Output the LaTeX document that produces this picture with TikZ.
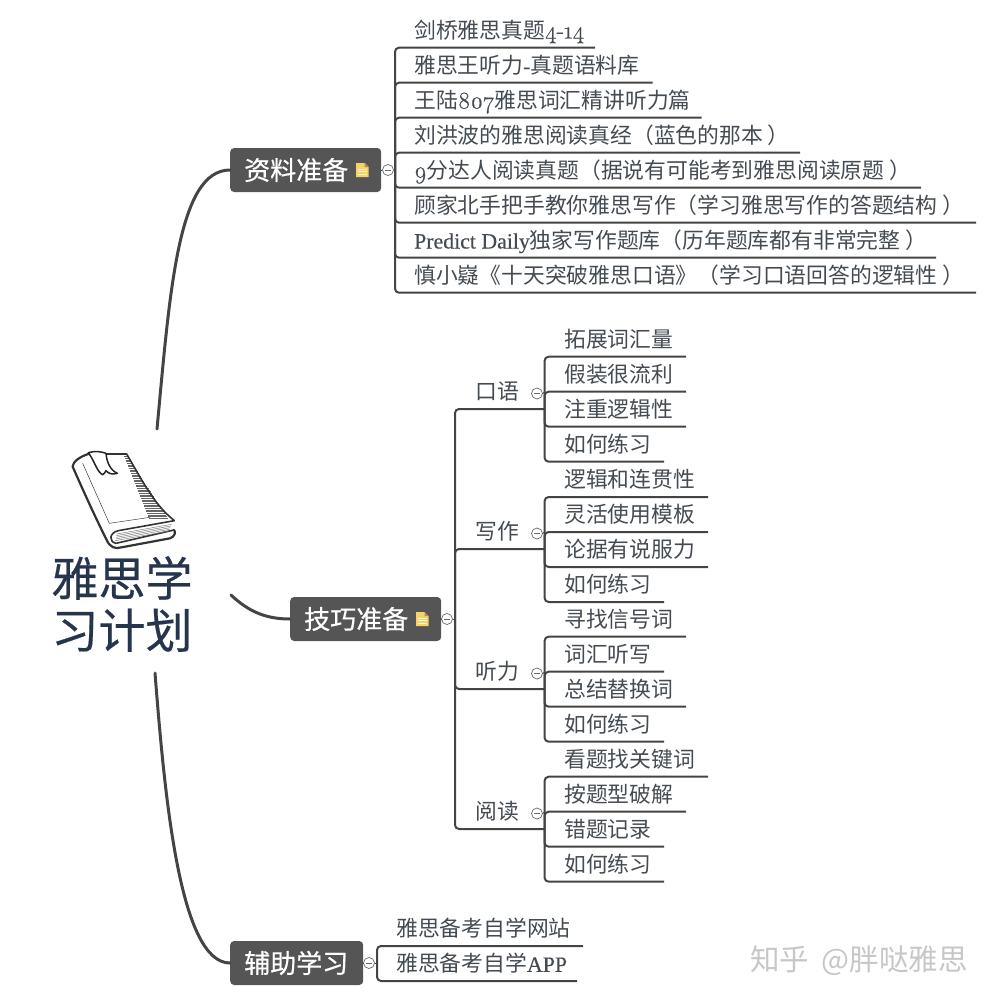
\documentclass[tikz,border=0pt]{standalone}
\usepackage{fontspec}
\setmainfont{Noto Sans CJK SC}
\newfontfamily\latf[FakeBold=0.3]{Liberation Serif}
\newfontfamily\oldf[Numbers=OldStyle,FakeBold=0.7]{Latin Modern Roman}
\newfontfamily\topicf[FakeBold=0.6]{Noto Sans CJK SC}
\newfontfamily\titlef[FakeBold=0.4]{Noto Sans CJK SC}
\newcommand\lat[1]{{\latf #1}}
\newcommand\old[1]{{\oldf\fontsize{24}{26}\selectfont #1}}
\newcommand\rpr{\kern5pt）}
\definecolor{boxc}{HTML}{555555}
\definecolor{linec}{HTML}{444444}
\definecolor{txtc}{HTML}{444B52}
\definecolor{titlec}{HTML}{26344C}
\definecolor{notec}{HTML}{F7D266}
\tikzset{
  branch/.style={draw=linec,line width=2pt},
  trunk/.style={draw=linec,line width=3pt,line cap=round},
  leaf/.style={anchor=west,inner sep=0pt,text=txtc,font=\fontsize{21.8}{24}\selectfont,text height=19.2pt,text depth=2.6pt},
  topic/.style={fill=boxc,rounded corners=4pt,inner sep=0pt,text=white,minimum height=44pt,font=\topicf\fontsize{26}{28}\selectfont,text height=22.9pt,text depth=3.1pt,align=left},
  fold/.style={circle,draw=linec!80,line width=.7pt,fill=white,minimum size=11pt,inner sep=0pt},
  stub/.style={draw=linec,line width=.8pt},
}
\newcommand\leaf[6]{%
  \node[leaf] (#1) at (#2,#4-17.5) {#6};
  \coordinate (#1e) at (#5,#4);
  \draw[branch,rounded corners=4pt] (#3) |- (#1e);
}
\newcommand\foldmark[3]{%
  \node[fold] (#1) at (#2,#3) {};
  \draw[draw=linec!80,line width=.7pt] ([xshift=-3pt]#1.center) -- ([xshift=3pt]#1.center);
}
\newcommand\noteicon[2]{%
  \fill[notec] (#1-6,#2-7) -- (#1+2.5,#2-7) -- (#1+6.5,#2-3) -- (#1+6.5,#2+7) -- (#1-6,#2+7) -- cycle;
  \fill[notec!70!black] (#1+2.5,#2-7) -- (#1+6.5,#2-3) -- (#1+2.5,#2-3) -- cycle;
  \draw[white!75!notec,line width=.6pt] (#1-4,#2-1) -- (#1+4.5,#2-1) (#1-4,#2+1.5) -- (#1+4.5,#2+1.5) (#1-4,#2+4) -- (#1+4.5,#2+4);
}
\begin{document}
\begin{tikzpicture}[x=1pt,y=-1pt]
\useasboundingbox (0,0) rectangle (993,1001);
% title
\node[inner sep=0pt,text=titlec,align=center,font=\titlef\fontsize{47}{52}\selectfont] (root) at (122,604) {雅思学\\习计划};
% book icon
\begin{scope}[shift={(60,440)},scale=0.3333]
  \fill[white] (85,42) -- (200,42) .. controls (240,110) and (280,190) .. (335,235) -- (343,242) -- (345,270) -- (340,290) -- (185,322) -- (140,300) -- (38,80) -- cycle;
  \foreach \yy in {50,55,...,235}{
    \draw[black!60,line width=.55pt] ({193+(\yy-50)*0.40},\yy) -- ({203+(\yy-50)*0.66},\yy);
  }
  \draw[black!75,line width=.5pt] (68,70) -- (148,250) -- (270,232);
  \draw[black!80,line width=1.6pt,line join=round,line cap=round]
    (85,42) -- (200,42) .. controls (240,110) and (280,190) .. (335,235) -- (343,242)
    -- (175,272) .. controls (148,278) and (145,305) .. (168,310) -- (342,270);
  \draw[black!80,line width=2.2pt,line join=round,line cap=round]
    (85,42) .. controls (60,50) and (38,65) .. (38,80)
    .. controls (60,130) and (100,220) .. (140,300) .. controls (150,322) and (165,328) .. (185,322)
    -- (330,295) .. controls (345,290) and (348,275) .. (342,270);
  \foreach \a in {0,1,2,3,4}{
    \draw[black!50,line width=.5pt] ({170-\a},{282+\a*5}) -- ({335-\a*2},{253+\a*5});
  }
  \draw[black!85,line width=1.5pt,fill=white,line join=round]
    (85,38) .. controls (105,32) and (125,35) .. (138,40) .. controls (140,65) and (150,90) .. (172,100)
    .. controls (155,105) and (145,100) .. (138,92) .. controls (135,98) and (132,102) .. (128,104)
    .. controls (110,95) and (105,65) .. (85,38) -- cycle;
\end{scope}
% trunks
\coordinate (t1) at (157,429);
\coordinate (t2) at (231,595);
\coordinate (t3) at (155,673);
% topics
\node[topic,minimum width=151pt,anchor=west] (A) at (230,170) {\makebox[123pt][l]{资料准备}};
\node[topic,minimum width=151pt,anchor=west] (B) at (290,619) {\makebox[123pt][l]{技巧准备}};
\node[topic,minimum width=133pt,anchor=west] (C) at (230,963) {\makebox[105pt][l]{辅助学习}};
\draw[trunk] (t1) .. controls (170,290) and (178,170) .. (A.west);
\draw[trunk] (t2) .. controls (250,613) and (268,619) .. (B.west);
\draw[trunk] (t3) .. controls (165,800) and (180,963) .. (C.west);
\noteicon{362}{170}
\noteicon{422}{619}
% group A
\foldmark{fa}{388}{170}
\coordinate (ha) at (395,170);
\draw[stub] (A.east) -- (fa.west) (fa.east) -- (ha);
\leaf{a1}{414}{ha}{47.7}{595}{剑桥雅思真题\old{4-14}}
\leaf{a2}{414}{ha}{82.7}{652.5}{雅思王听力\lat{-}真题语料库}
\leaf{a3}{414}{ha}{117.7}{701.5}{王陆\old{807}雅思词汇精讲听力篇}
\leaf{a4}{414}{ha}{152.7}{800}{刘洪波的雅思阅读真经（蓝色的那本\rpr}
\leaf{a5}{414}{ha}{187.7}{921}{\old{9}分达人阅读真题（据说有可能考到雅思阅读原题\rpr}
\leaf{a6}{414}{ha}{222.7}{976}{顾家北手把手教你雅思写作（学习雅思写作的答题结构\rpr}
\leaf{a7}{414}{ha}{257.7}{936}{\lat{Predict Daily}独家写作题库（历年题库都有非常完整\rpr}
\leaf{a8}{414}{ha}{292.7}{976}{慎小嶷《十天突破雅思口语》（学习口语回答的逻辑性\rpr}
% group B
\foldmark{fb}{447}{619}
\coordinate (hb) at (455,619);
\draw[stub] (B.east) -- (fb.west) (fb.east) -- (hb);
\leaf{s1}{475}{hb}{409}{544.6}{口语}
\leaf{s2}{475}{hb}{549}{544.6}{写作}
\leaf{s3}{475}{hb}{689}{544.6}{听力}
\leaf{s4}{475}{hb}{829}{544.6}{阅读}
\foldmark{f1}{537}{393.5}
\foldmark{f2}{537}{533.5}
\foldmark{f3}{537}{673.5}
\foldmark{f4}{537}{813.5}
\draw[stub] (f1.east) -- (544.6,392) (f2.east) -- (544.6,532) (f3.east) -- (544.6,672) (f4.east) -- (544.6,812);
\leaf{b1}{564}{s1e}{356.7}{686}{拓展词汇量}
\leaf{b2}{564}{s1e}{391.7}{686}{假装很流利}
\leaf{b3}{564}{s1e}{426.7}{686}{注重逻辑性}
\leaf{b4}{564}{s1e}{461.7}{664}{如何练习}
\leaf{b5}{564}{s2e}{497}{708}{逻辑和连贯性}
\leaf{b6}{564}{s2e}{532}{708}{灵活使用模板}
\leaf{b7}{564}{s2e}{567}{708}{论据有说服力}
\leaf{b8}{564}{s2e}{602}{664}{如何练习}
\leaf{b9}{564}{s3e}{636.7}{686}{寻找信号词}
\leaf{b10}{564}{s3e}{671.7}{664}{词汇听写}
\leaf{b11}{564}{s3e}{706.7}{686}{总结替换词}
\leaf{b12}{564}{s3e}{741.7}{664}{如何练习}
\leaf{b13}{564}{s4e}{776.7}{708}{看题找关键词}
\leaf{b14}{564}{s4e}{811.7}{686}{按题型破解}
\leaf{b15}{564}{s4e}{846.7}{664}{错题记录}
\leaf{b16}{564}{s4e}{881.7}{664}{如何练习}
% group C
\foldmark{fc}{369}{963}
\coordinate (hc) at (377,963);
\draw[stub] (C.east) -- (fc.west) (fc.east) -- (hc);
\leaf{c1}{396}{hc}{946}{583}{雅思备考自学网站}
\leaf{c2}{396}{hc}{981}{577}{雅思备考自学\lat{APP}}
% watermark
\node[inner sep=0pt,text=black!22,font=\fontsize{29.5}{31}\selectfont,anchor=east] (wm) at (968,961) {知乎\hspace{6pt} @胖哒雅思};
\end{tikzpicture}
\end{document}
